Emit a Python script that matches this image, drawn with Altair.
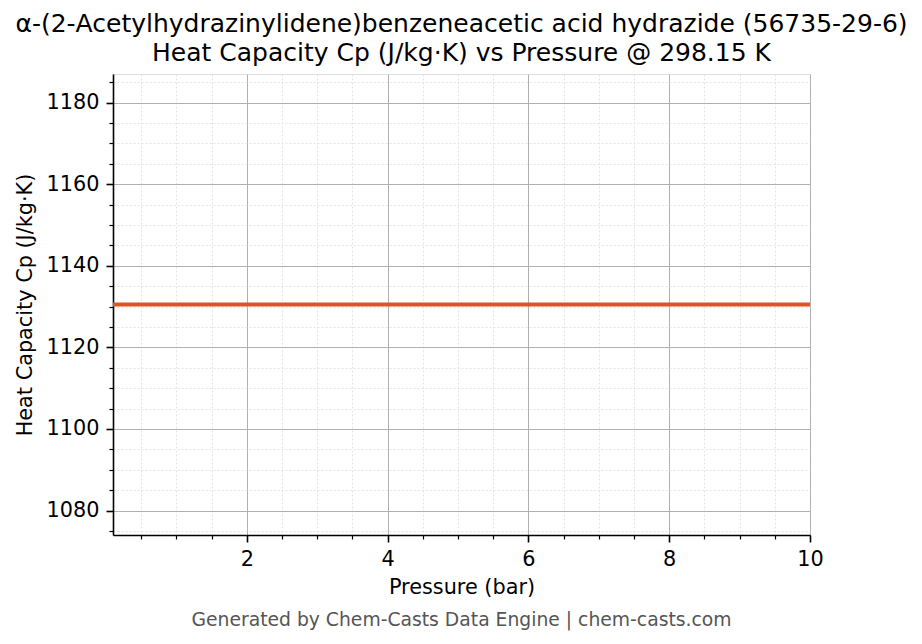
import pandas as pd
import altair as alt

# Cp is flat over the pressure range
pressure_bar = [0.1, 1.0, 2.0, 3.0, 4.0, 5.0, 6.0, 7.0, 8.0, 9.0, 10.0]
cp_jkgk = [1130.5, 1130.5, 1130.5, 1130.5, 1130.5, 1130.5, 1130.5, 1130.5, 1130.5, 1130.5, 1130.5]

# major + minor tick positions
x_ticks = [0.5, 1.0, 1.5, 2.0, 2.5, 3.0, 3.5, 4.0, 4.5, 5.0,
           5.5, 6.0, 6.5, 7.0, 7.5, 8.0, 8.5, 9.0, 9.5, 10.0]
y_ticks = [1075, 1080, 1085, 1090, 1095, 1100, 1105, 1110, 1115, 1120, 1125,
           1130, 1135, 1140, 1145, 1150, 1155, 1160, 1165, 1170, 1175, 1180, 1185]

title_lines = [
    "α-(2-Acetylhydrazinylidene)benzeneacetic acid hydrazide (56735-29-6)",
    "Heat Capacity Cp (J/kg·K) vs Pressure @ 298.15 K",
]
footer_text = ["Generated by Chem-Casts Data Engine | chem-casts.com"]

df = pd.DataFrame({"Pressure": pressure_bar, "Cp": cp_jkgk})
footer_df = pd.DataFrame({"text": footer_text})

FONT = "DejaVu Sans"
W, H = 697, 461


def mpl_axis(title, values, major_test, title_pad):
    return alt.Axis(
        title=title,
        values=values,
        labelExpr=f"{major_test} ? format(datum.value, 'd') : ''",
        labelFlush=False,
        labelOverlap=False,
        labelFont=FONT,
        labelFontSize=20.8,
        labelColor="black",
        labelPadding=7,
        titleFont=FONT,
        titleFontSize=20.8,
        titleFontWeight="normal",
        titleColor="black",
        titlePadding=title_pad,
        domainColor="black",
        domainWidth=1.6,
        tickColor="black",
        tickSize={"condition": {"test": major_test, "value": 7}, "value": 4},
        tickWidth={"condition": {"test": major_test, "value": 1.6}, "value": 1.2},
        grid=True,
        gridColor={"condition": {"test": major_test, "value": "#b0b0b0"}, "value": "#dddddd"},
        gridWidth={"condition": {"test": major_test, "value": 1.0}, "value": 0.8},
        gridDash={"condition": {"test": major_test, "value": []}, "value": [2, 2]},
    )


line = (
    alt.Chart(df)
    .mark_line(color="#DD5522", strokeWidth=4, clip=True)
    .encode(
        x=alt.X(
            "Pressure:Q",
            scale=alt.Scale(domain=[0.1, 10], nice=False, zero=False),
            axis=mpl_axis("Pressure (bar)", x_ticks, "datum.value % 2 === 0", 9),
        ),
        y=alt.Y(
            "Cp:Q",
            scale=alt.Scale(domain=[1074.0, 1187.0], nice=False, zero=False),
            axis=mpl_axis("Heat Capacity Cp (J/kg·K)", y_ticks, "datum.value % 20 === 0", 11),
        ),
    )
)

footer = (
    alt.Chart(footer_df)
    .mark_text(font=FONT, fontSize=18.75, color="#555555", align="center", baseline="middle")
    .encode(text="text:N", x=alt.value(W / 2), y=alt.value(546))
)

chart = (
    alt.layer(line, footer)
    .properties(
        width=W,
        height=H,
        autosize=alt.AutoSizeParams(type="none"),
        padding={"left": 105, "top": 66, "right": 104, "bottom": 101},
        title=alt.TitleParams(
            text=title_lines,
            font=FONT,
            fontSize=25,
            fontWeight="normal",
            color="black",
            lineHeight=29,
            anchor="middle",
            offset=5,
        ),
    )
    .configure_view(stroke="black", strokeWidth=1.6)
    .configure(background="white")
)

chart.save("out.html", embed_options={"renderer": "svg", "actions": False})
